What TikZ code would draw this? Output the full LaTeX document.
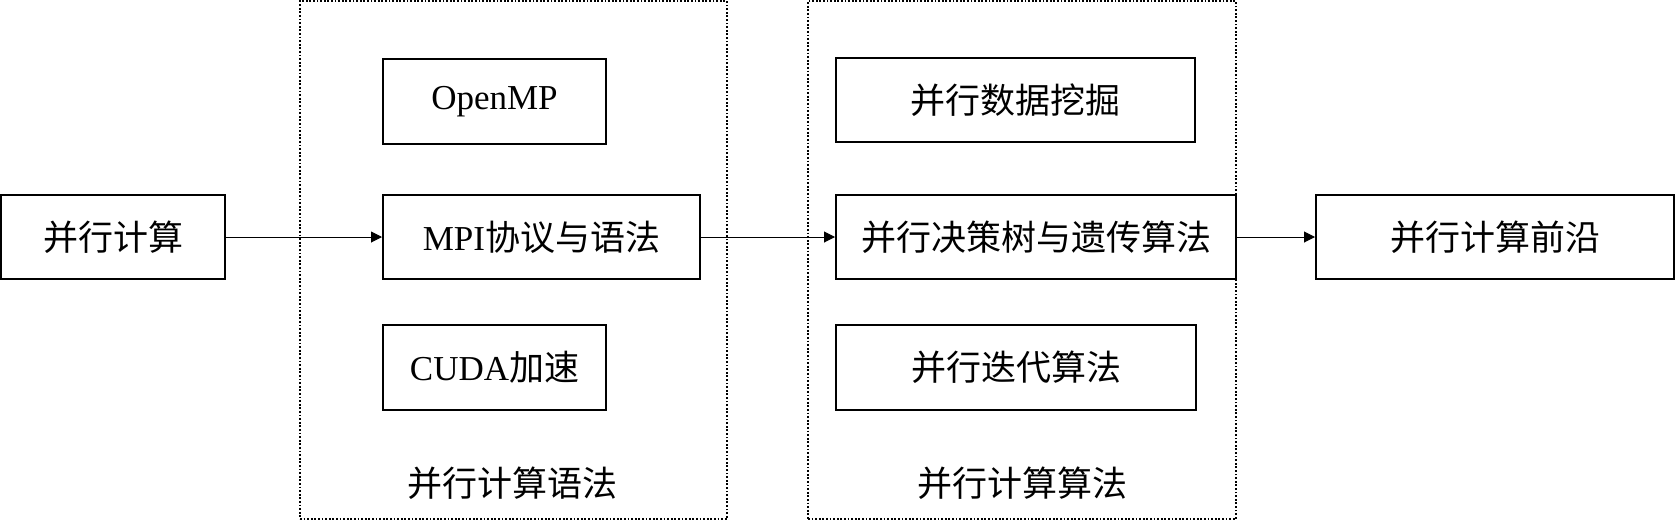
\documentclass[tikz,border=0pt]{standalone}
\usepackage{fontspec}
\setmainfont{Liberation Serif}
\newfontfamily\cjk{Noto Sans CJK SC}
\usetikzlibrary{arrows.meta}
\begin{document}
\begin{tikzpicture}[x=1pt,y=-1pt,
  box/.style={draw,line width=2pt,rectangle,inner sep=0pt,font=\fontsize{35}{42}\selectfont},
  grp/.style={draw,line width=1.8pt,dash pattern=on 1.8pt off 1.8pt,rectangle,inner sep=0pt},
  lbl/.style={inner sep=0pt,font=\fontsize{35}{42}\selectfont},
  conn/.style={line width=1pt,-{Triangle[length=11pt,width=11pt]}}]
\useasboundingbox (0,0) rectangle (1676,520);
\node[grp,minimum width=427pt,minimum height=518pt] (g1) at (513.5,260) {};
\node[grp,minimum width=428pt,minimum height=518pt] (g2) at (1022,260) {};
\node[box,minimum width=224pt,minimum height=84pt] (a) at (113,237) {\cjk 并行计算};
\node[box,minimum width=223pt,minimum height=85pt] (omp) at (494.5,101.5) {OpenMP};
\node[box,minimum width=317pt,minimum height=84pt] (mpi) at (541.5,237) {MPI{\cjk 协议与语法}};
\node[box,minimum width=223pt,minimum height=85pt] (cuda) at (494.5,367.5) {CUDA{\cjk 加速}};
\node[box,minimum width=359pt,minimum height=84pt] (mine) at (1015.5,100) {\cjk 并行数据挖掘};
\node[box,minimum width=400pt,minimum height=84pt] (tree) at (1036,237) {\cjk 并行决策树与遗传算法};
\node[box,minimum width=360pt,minimum height=85pt] (iter) at (1016,367.5) {\cjk 并行迭代算法};
\node[box,minimum width=358pt,minimum height=84pt] (front) at (1495,237) {\cjk 并行计算前沿};
\node[lbl] (l1) at (512,483) {\cjk 并行计算语法};
\node[lbl] (l2) at (1022,483) {\cjk 并行计算算法};
\draw[conn] (a) -- (mpi);
\draw[conn] (mpi) -- (tree);
\draw[conn] (tree) -- (front);
\end{tikzpicture}
\end{document}
